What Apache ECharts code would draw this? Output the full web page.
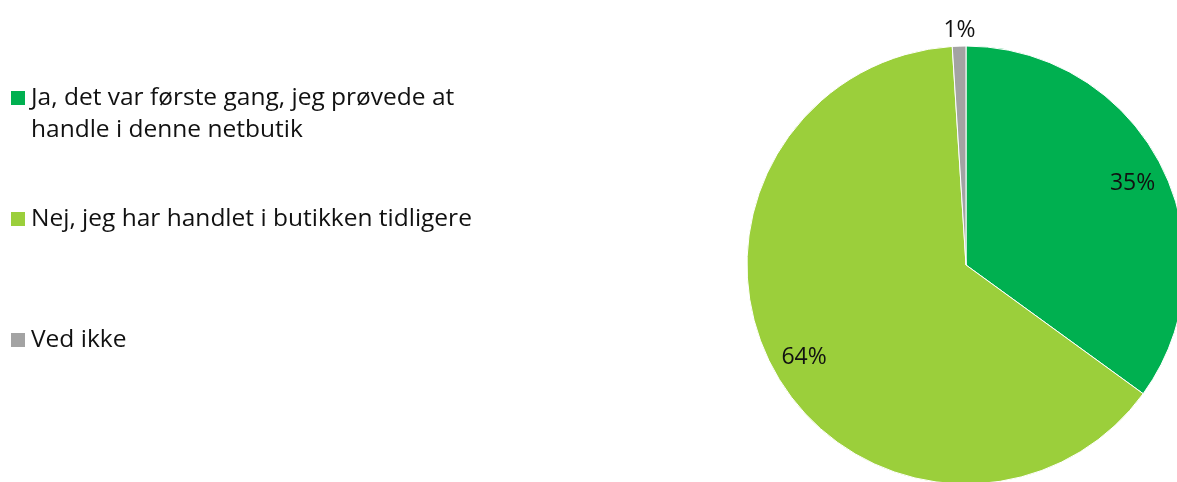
<!DOCTYPE html>
<html>
<head>
<meta charset="utf-8">
<script src="https://cdn.jsdelivr.net/npm/echarts@6/dist/echarts.min.js"></script>
<style>
  html, body { margin: 0; padding: 0; background: #fff; }
  #chart { width: 1177px; height: 482px; }
</style>
</head>
<body>
<div id="chart"></div>
<script>
const categories = [
  'Ja, det var første gang, jeg prøvede at handle i denne netbutik',
  'Nej, jeg har handlet i butikken tidligere',
  'Ved ikke'
]
// legend text as wrapped in the original (leading blank line keeps the
// marker level with the first line)
const legendText = [
  '\nJa, det var første gang, jeg prøvede at\nhandle i denne netbutik',
  'Nej, jeg har handlet i butikken tidligere',
  'Ved ikke'
]
const values = [35, 64, 1]
const colors = ['#00B050', '#9BCF3B', '#A3A3A3']

const FONT = '"Open Sans", Lato, sans-serif'
const R = 219
const center = [966, 265]

const chart = echarts.init(document.getElementById('chart'))

const pieData = categories.map((name, i) => ({
  name,
  value: values[i],
  itemStyle: { color: colors[i] },
}))

function legendFor(i, top) {
  return {
    left: 9,
    top,
    padding: 0,
    orient: 'vertical',
    icon: 'rect',
    itemWidth: 16,
    itemHeight: 16,
    itemGap: 0,
    data: [categories[i]],
    formatter: () => legendText[i],
    textStyle: {
      fontFamily: FONT,
      fontSize: 24.5,
      lineHeight: 32,
      color: '#111',
    },
  }
}

const labelStyle = {
  position: 'inside',
  formatter: (p) => p.value + '%',
  fontFamily: FONT,
  fontSize: 23,
  color: '#111',
  offset: [1, 3],
}

chart.setOption({
  animation: false,
  legend: [
    legendFor(0, 50),
    legendFor(1, 203),
    legendFor(2, 324),
  ],
  series: [
    {
      // the pie itself
      type: 'pie',
      center,
      radius: [0, R],
      startAngle: 90,
      clockwise: true,
      data: pieData,
      label: { show: false },
      labelLine: { show: false },
      itemStyle: { borderColor: '#fff', borderWidth: 1 },
    },
    {
      // transparent ring used only to place the inner labels
      type: 'pie',
      center,
      radius: [R * 0.67, R],
      startAngle: 90,
      silent: true,
      legendHoverLink: false,
      data: pieData.map((d, i) => ({
        name: d.name,
        value: d.value,
        label: { show: i < 2 },
      })),
      itemStyle: { color: 'transparent' },
      label: labelStyle,
      labelLine: { show: false },
    },
    {
      // transparent outer ring for the small slice label
      type: 'pie',
      center,
      radius: [R, R + 32],
      startAngle: 90,
      silent: true,
      legendHoverLink: false,
      data: pieData.map((d, i) => ({
        name: d.name,
        value: d.value,
        label: { show: i === 2 },
      })),
      itemStyle: { color: 'transparent' },
      label: labelStyle,
      labelLine: { show: false },
    },
  ],
})
</script>
</body>
</html>
